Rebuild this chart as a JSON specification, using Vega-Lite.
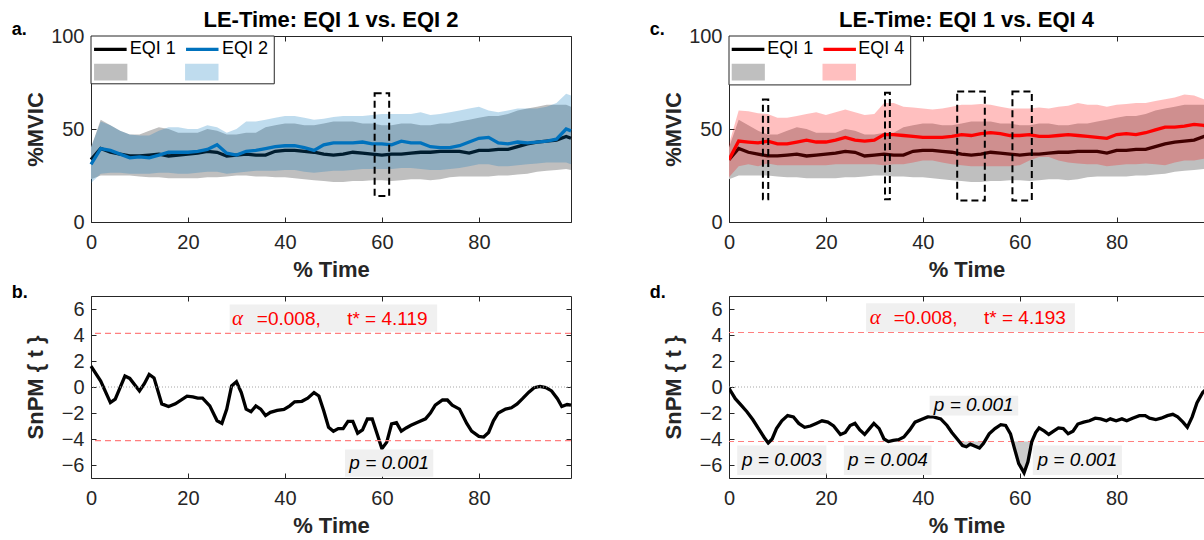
{
  "$schema": "https://vega.github.io/schema/vega-lite/v6.json",
  "padding": {"left": 11, "top": 9, "right": 0, "bottom": 0},
  "background": "white",
  "config": {
    "font": "Liberation Sans",
    "view": {"stroke": null},
    "axis": {"grid": false, "domainColor": "#262626", "domainWidth": 1, "tickColor": "#262626", "tickSize": -5, "tickWidth": 1,
      "labelColor": "#262626", "labelFontSize": 20, "labelFont": "Liberation Sans", "labelFlush": false, "labelOverlap": false,
      "titleFont": "Liberation Sans", "titleFontSize": 22, "titleFontWeight": "bold", "titleColor": "#262626"},
    "axisX": {"labelPadding": 15, "minExtent": 30, "maxExtent": 30, "titlePadding": 7},
    "axisY": {"labelPadding": 12, "minExtent": 40, "maxExtent": 40, "titlePadding": 4},
    "title": {"font": "Liberation Sans", "fontSize": 22, "fontWeight": "bold", "color": "#000000", "offset": -11, "anchor": "middle", "frame": "group"}
  },
  "datasets": {
    "one": [{}],
    "env": [
      {"t": 0, "m1": 33.5, "lo1": 23, "hi1": 40, "m2": 31, "lo2": 21, "hi2": 40, "m4": 33.5, "lo4": 24, "hi4": 42},
      {"t": 2, "m1": 39.5, "lo1": 25, "hi1": 55, "m2": 39.5, "lo2": 26, "hi2": 54, "m4": 43.5, "lo4": 30, "hi4": 60},
      {"t": 4, "m1": 37.5, "lo1": 25, "hi1": 52, "m2": 38.5, "lo2": 26.5, "hi2": 52, "m4": 43, "lo4": 31, "hi4": 59.5},
      {"t": 6, "m1": 36.5, "lo1": 25, "hi1": 49, "m2": 36.5, "lo2": 26.5, "hi2": 49, "m4": 42.5, "lo4": 30, "hi4": 58.5},
      {"t": 8, "m1": 35.5, "lo1": 25, "hi1": 47, "m2": 34.5, "lo2": 26, "hi2": 47, "m4": 43.5, "lo4": 31.5, "hi4": 58},
      {"t": 10, "m1": 35.5, "lo1": 24.5, "hi1": 47, "m2": 35, "lo2": 26, "hi2": 46.5, "m4": 42, "lo4": 30.5, "hi4": 56},
      {"t": 12, "m1": 36, "lo1": 24, "hi1": 49, "m2": 34.5, "lo2": 26, "hi2": 46.5, "m4": 42, "lo4": 30.5, "hi4": 56},
      {"t": 14, "m1": 36.5, "lo1": 24, "hi1": 51, "m2": 36, "lo2": 26.5, "hi2": 49, "m4": 43, "lo4": 30.5, "hi4": 57},
      {"t": 16, "m1": 35.5, "lo1": 23.5, "hi1": 50, "m2": 37.5, "lo2": 26.5, "hi2": 51, "m4": 44, "lo4": 30.5, "hi4": 58},
      {"t": 18, "m1": 36, "lo1": 23.5, "hi1": 48, "m2": 37.5, "lo2": 26, "hi2": 51, "m4": 43, "lo4": 30.5, "hi4": 59},
      {"t": 20, "m1": 36.5, "lo1": 23.5, "hi1": 48, "m2": 37.5, "lo2": 26, "hi2": 50, "m4": 43, "lo4": 30.5, "hi4": 57.5},
      {"t": 22, "m1": 37, "lo1": 23.5, "hi1": 48, "m2": 38, "lo2": 26.5, "hi2": 50, "m4": 44, "lo4": 31, "hi4": 59},
      {"t": 24, "m1": 38, "lo1": 24, "hi1": 50, "m2": 39, "lo2": 27, "hi2": 52, "m4": 45.5, "lo4": 31, "hi4": 60.5},
      {"t": 26, "m1": 37.5, "lo1": 24, "hi1": 49, "m2": 41.5, "lo2": 27, "hi2": 51, "m4": 44, "lo4": 31, "hi4": 59},
      {"t": 28, "m1": 35.5, "lo1": 24.5, "hi1": 47, "m2": 37, "lo2": 26, "hi2": 48, "m4": 43.5, "lo4": 31, "hi4": 57.5},
      {"t": 30, "m1": 36, "lo1": 25, "hi1": 47, "m2": 36, "lo2": 26.5, "hi2": 50, "m4": 44, "lo4": 31, "hi4": 58},
      {"t": 32, "m1": 36.5, "lo1": 25, "hi1": 48, "m2": 38, "lo2": 27, "hi2": 54, "m4": 47, "lo4": 30.5, "hi4": 64},
      {"t": 34, "m1": 36, "lo1": 24.5, "hi1": 48, "m2": 38.5, "lo2": 27.5, "hi2": 54, "m4": 47, "lo4": 31, "hi4": 64},
      {"t": 36, "m1": 36, "lo1": 24.5, "hi1": 51, "m2": 39.5, "lo2": 27.5, "hi2": 55, "m4": 46.5, "lo4": 31, "hi4": 62},
      {"t": 38, "m1": 38, "lo1": 24, "hi1": 52, "m2": 40.5, "lo2": 27.5, "hi2": 56, "m4": 46, "lo4": 32, "hi4": 61.5},
      {"t": 40, "m1": 38.5, "lo1": 24, "hi1": 53, "m2": 41, "lo2": 28, "hi2": 57, "m4": 45.5, "lo4": 33, "hi4": 61},
      {"t": 42, "m1": 38.5, "lo1": 23.5, "hi1": 53, "m2": 41, "lo2": 28, "hi2": 57, "m4": 45.5, "lo4": 33, "hi4": 60.5},
      {"t": 44, "m1": 38, "lo1": 23, "hi1": 52, "m2": 40, "lo2": 27, "hi2": 56, "m4": 45.5, "lo4": 32, "hi4": 61},
      {"t": 46, "m1": 37.5, "lo1": 22.5, "hi1": 52, "m2": 38.5, "lo2": 26.5, "hi2": 55, "m4": 46, "lo4": 31, "hi4": 62},
      {"t": 48, "m1": 36.5, "lo1": 22, "hi1": 53, "m2": 41.5, "lo2": 27, "hi2": 55.5, "m4": 47, "lo4": 30.5, "hi4": 63},
      {"t": 50, "m1": 36, "lo1": 21.5, "hi1": 54, "m2": 42.5, "lo2": 27.5, "hi2": 56.5, "m4": 46.5, "lo4": 30, "hi4": 63},
      {"t": 52, "m1": 36.5, "lo1": 21.5, "hi1": 54, "m2": 42.5, "lo2": 27.5, "hi2": 57, "m4": 47.5, "lo4": 30, "hi4": 63.5},
      {"t": 54, "m1": 37.5, "lo1": 22, "hi1": 54, "m2": 42.5, "lo2": 28, "hi2": 57, "m4": 48, "lo4": 30, "hi4": 63},
      {"t": 56, "m1": 37, "lo1": 22, "hi1": 53, "m2": 43, "lo2": 28.5, "hi2": 57, "m4": 47.5, "lo4": 30, "hi4": 62},
      {"t": 58, "m1": 36.5, "lo1": 22.5, "hi1": 53, "m2": 42, "lo2": 28.5, "hi2": 57.5, "m4": 46.5, "lo4": 30, "hi4": 61},
      {"t": 60, "m1": 36, "lo1": 22.5, "hi1": 52, "m2": 42, "lo2": 28.5, "hi2": 58, "m4": 46.5, "lo4": 30.5, "hi4": 61},
      {"t": 62, "m1": 36.5, "lo1": 22, "hi1": 52, "m2": 41.5, "lo2": 28.5, "hi2": 58, "m4": 47, "lo4": 33, "hi4": 61},
      {"t": 64, "m1": 36.5, "lo1": 22.5, "hi1": 53, "m2": 43.5, "lo2": 29, "hi2": 58, "m4": 46, "lo4": 35, "hi4": 61.5},
      {"t": 66, "m1": 37, "lo1": 23, "hi1": 53, "m2": 42.5, "lo2": 29, "hi2": 58, "m4": 46, "lo4": 35, "hi4": 61},
      {"t": 68, "m1": 37.5, "lo1": 23, "hi1": 52, "m2": 42.5, "lo2": 28.5, "hi2": 59, "m4": 46.5, "lo4": 33, "hi4": 62},
      {"t": 70, "m1": 37.5, "lo1": 22.5, "hi1": 52, "m2": 40.5, "lo2": 28, "hi2": 57.5, "m4": 47, "lo4": 32, "hi4": 62.5},
      {"t": 72, "m1": 38, "lo1": 23, "hi1": 53, "m2": 40, "lo2": 28, "hi2": 58, "m4": 46.5, "lo4": 31.5, "hi4": 64},
      {"t": 74, "m1": 38, "lo1": 24, "hi1": 53, "m2": 40, "lo2": 28.5, "hi2": 59, "m4": 46, "lo4": 31, "hi4": 63},
      {"t": 76, "m1": 38, "lo1": 24.5, "hi1": 54, "m2": 41, "lo2": 29, "hi2": 60, "m4": 45.5, "lo4": 31, "hi4": 63},
      {"t": 78, "m1": 37, "lo1": 24.5, "hi1": 55, "m2": 43, "lo2": 30, "hi2": 61, "m4": 45, "lo4": 30, "hi4": 62},
      {"t": 80, "m1": 38.5, "lo1": 24.5, "hi1": 56, "m2": 45, "lo2": 31, "hi2": 62, "m4": 47, "lo4": 30.5, "hi4": 63},
      {"t": 82, "m1": 38.5, "lo1": 24.5, "hi1": 57, "m2": 45.5, "lo2": 31, "hi2": 60, "m4": 47.5, "lo4": 31, "hi4": 63.5},
      {"t": 84, "m1": 39, "lo1": 25, "hi1": 57, "m2": 42.5, "lo2": 30, "hi2": 59, "m4": 47, "lo4": 31, "hi4": 64},
      {"t": 86, "m1": 39, "lo1": 25, "hi1": 58, "m2": 42, "lo2": 30, "hi2": 60, "m4": 48, "lo4": 31.5, "hi4": 64},
      {"t": 88, "m1": 40.5, "lo1": 25.5, "hi1": 60, "m2": 43, "lo2": 30.5, "hi2": 61, "m4": 49.5, "lo4": 31, "hi4": 65},
      {"t": 90, "m1": 42, "lo1": 26, "hi1": 61, "m2": 42.5, "lo2": 31, "hi2": 61, "m4": 51, "lo4": 30.5, "hi4": 66},
      {"t": 92, "m1": 43, "lo1": 27, "hi1": 62, "m2": 43, "lo2": 31.5, "hi2": 61, "m4": 51, "lo4": 32, "hi4": 67},
      {"t": 94, "m1": 43.5, "lo1": 27.5, "hi1": 63, "m2": 43.5, "lo2": 32, "hi2": 62, "m4": 51.5, "lo4": 33, "hi4": 68.5},
      {"t": 96, "m1": 44, "lo1": 28, "hi1": 63, "m2": 44.5, "lo2": 32, "hi2": 64, "m4": 52.5, "lo4": 33, "hi4": 68},
      {"t": 98, "m1": 46, "lo1": 28.5, "hi1": 63, "m2": 50, "lo2": 32, "hi2": 69, "m4": 52, "lo4": 34, "hi4": 66},
      {"t": 99, "m1": 45, "lo1": 28, "hi1": 62, "m2": 49, "lo2": 31, "hi2": 68, "m4": 50, "lo4": 34, "hi4": 65}
    ],
    "spm_b": [
      {"t": 0, "v": 1.6}, {"t": 2, "v": 0.46}, {"t": 4, "v": -1.2}, {"t": 5, "v": -0.94}, {"t": 7, "v": 0.84}, {"t": 8, "v": 0.66},
      {"t": 10, "v": -0.3}, {"t": 11, "v": 0.25}, {"t": 12, "v": 0.96}, {"t": 13, "v": 0.7}, {"t": 14.6, "v": -1.3}, {"t": 16, "v": -1.5},
      {"t": 17.4, "v": -1.3}, {"t": 19.8, "v": -0.7}, {"t": 21, "v": -0.76}, {"t": 22, "v": -0.86}, {"t": 23, "v": -0.86}, {"t": 24.5, "v": -1.45},
      {"t": 26, "v": -2.6}, {"t": 27, "v": -2.8}, {"t": 28, "v": -1.7}, {"t": 29, "v": 0.08}, {"t": 30, "v": 0.4}, {"t": 31, "v": -0.43},
      {"t": 32, "v": -1.7}, {"t": 33, "v": -1.9}, {"t": 34, "v": -1.45}, {"t": 35, "v": -1.7}, {"t": 36, "v": -2.2}, {"t": 37, "v": -1.95},
      {"t": 38.4, "v": -1.8}, {"t": 39.8, "v": -1.73}, {"t": 41, "v": -1.45}, {"t": 42, "v": -1.14}, {"t": 43.5, "v": -1.1}, {"t": 44.7, "v": -0.86},
      {"t": 46, "v": -0.43}, {"t": 47, "v": -0.69}, {"t": 48, "v": -1.83}, {"t": 49, "v": -3.1}, {"t": 50, "v": -3.4}, {"t": 51, "v": -3.2},
      {"t": 52, "v": -3.2}, {"t": 53, "v": -2.64}, {"t": 54, "v": -2.64}, {"t": 55, "v": -3.55}, {"t": 56, "v": -3.3}, {"t": 57, "v": -2.46},
      {"t": 58, "v": -2.46}, {"t": 59, "v": -3.6}, {"t": 60, "v": -4.75}, {"t": 61, "v": -4.24}, {"t": 62, "v": -2.84}, {"t": 63, "v": -2.74},
      {"t": 64, "v": -3.4}, {"t": 65, "v": -3.15}, {"t": 66, "v": -2.95}, {"t": 67.5, "v": -2.7}, {"t": 69, "v": -2.45}, {"t": 70, "v": -2.0},
      {"t": 71, "v": -1.4}, {"t": 72.5, "v": -1.0}, {"t": 73.5, "v": -1.0}, {"t": 74.5, "v": -1.4}, {"t": 76, "v": -1.7}, {"t": 77.5, "v": -2.8},
      {"t": 78.5, "v": -3.4}, {"t": 80, "v": -3.8}, {"t": 81, "v": -3.85}, {"t": 82, "v": -3.5}, {"t": 83, "v": -2.6}, {"t": 84, "v": -2.0},
      {"t": 85.5, "v": -1.7}, {"t": 86.7, "v": -1.6}, {"t": 87.9, "v": -1.3}, {"t": 89, "v": -0.9}, {"t": 90.3, "v": -0.4}, {"t": 91.4, "v": -0.05},
      {"t": 92.6, "v": 0.05}, {"t": 93.8, "v": -0.05}, {"t": 95, "v": -0.3}, {"t": 96.2, "v": -0.9}, {"t": 97.1, "v": -1.5}, {"t": 98.2, "v": -1.35},
      {"t": 99, "v": -1.4}
    ],
    "spm_d": [
      {"t": 0, "v": -0.1}, {"t": 1.3, "v": -0.9}, {"t": 2.5, "v": -1.4}, {"t": 3.7, "v": -1.9}, {"t": 4.9, "v": -2.5}, {"t": 6.1, "v": -3.2},
      {"t": 7.3, "v": -3.9}, {"t": 8.1, "v": -4.3}, {"t": 8.9, "v": -4.0}, {"t": 9.8, "v": -3.2}, {"t": 10.9, "v": -2.6}, {"t": 12.1, "v": -2.2},
      {"t": 13.3, "v": -2.3}, {"t": 14.4, "v": -2.8}, {"t": 15.6, "v": -3.1}, {"t": 16.8, "v": -3.0}, {"t": 18, "v": -2.8}, {"t": 19.2, "v": -2.6},
      {"t": 20.4, "v": -2.7}, {"t": 21.6, "v": -3.0}, {"t": 23, "v": -3.65}, {"t": 24, "v": -3.5}, {"t": 25, "v": -2.96}, {"t": 26, "v": -2.8},
      {"t": 27, "v": -3.3}, {"t": 28, "v": -3.65}, {"t": 29, "v": -3.2}, {"t": 29.9, "v": -2.8}, {"t": 31, "v": -3.2}, {"t": 32, "v": -4.0},
      {"t": 32.9, "v": -4.2}, {"t": 33.9, "v": -4.1}, {"t": 35, "v": -4.05}, {"t": 36.1, "v": -3.85}, {"t": 37.3, "v": -3.3}, {"t": 38.4, "v": -2.7},
      {"t": 39.7, "v": -2.5}, {"t": 41, "v": -2.3}, {"t": 42.2, "v": -2.3}, {"t": 43.7, "v": -2.45}, {"t": 45, "v": -2.96}, {"t": 46, "v": -3.5},
      {"t": 47.1, "v": -4.0}, {"t": 48.2, "v": -4.5}, {"t": 49, "v": -4.6}, {"t": 49.8, "v": -4.4}, {"t": 50.8, "v": -4.55}, {"t": 51.7, "v": -4.7},
      {"t": 52.5, "v": -4.35}, {"t": 53.7, "v": -3.6}, {"t": 54.9, "v": -3.2}, {"t": 56.1, "v": -2.9}, {"t": 57.1, "v": -2.96}, {"t": 58.1, "v": -3.6},
      {"t": 58.9, "v": -4.7}, {"t": 59.8, "v": -5.9}, {"t": 60.9, "v": -6.6}, {"t": 61.7, "v": -5.75}, {"t": 62.5, "v": -4.2}, {"t": 63.3, "v": -3.5},
      {"t": 64, "v": -3.15}, {"t": 65.1, "v": -3.4}, {"t": 66, "v": -3.65}, {"t": 67, "v": -3.4}, {"t": 68, "v": -3.15}, {"t": 69, "v": -3.2},
      {"t": 70, "v": -3.6}, {"t": 71, "v": -3.4}, {"t": 72, "v": -2.85}, {"t": 73.2, "v": -2.7}, {"t": 74.4, "v": -2.6}, {"t": 75.6, "v": -2.4},
      {"t": 76.7, "v": -2.45}, {"t": 77.9, "v": -2.6}, {"t": 78.7, "v": -2.45}, {"t": 79.9, "v": -2.6}, {"t": 81.1, "v": -2.45}, {"t": 82.1, "v": -2.6},
      {"t": 83.3, "v": -2.4}, {"t": 84.7, "v": -2.2}, {"t": 85.9, "v": -2.2}, {"t": 86.8, "v": -2.4}, {"t": 88.1, "v": -2.5}, {"t": 89.2, "v": -2.4},
      {"t": 90.5, "v": -2.2}, {"t": 91.6, "v": -2.1}, {"t": 92.6, "v": -2.3}, {"t": 93.7, "v": -2.7}, {"t": 94.6, "v": -3.1}, {"t": 95.6, "v": -2.3},
      {"t": 96.6, "v": -1.2}, {"t": 97.8, "v": -0.4}, {"t": 98.4, "v": -0.2}, {"t": 99, "v": 0.1}
    ],
    "clus_d": [
      {"c": 1, "t": 47.3, "v": -4.193}, {"c": 1, "t": 48.2, "v": -4.5}, {"c": 1, "t": 49, "v": -4.6}, {"c": 1, "t": 49.8, "v": -4.4},
      {"c": 1, "t": 50.8, "v": -4.55}, {"c": 1, "t": 51.7, "v": -4.7}, {"c": 1, "t": 52.5, "v": -4.35}, {"c": 1, "t": 52.7, "v": -4.193},
      {"c": 2, "t": 58.4, "v": -4.193}, {"c": 2, "t": 58.9, "v": -4.7}, {"c": 2, "t": 59.8, "v": -5.9}, {"c": 2, "t": 60.9, "v": -6.6},
      {"c": 2, "t": 61.7, "v": -5.75}, {"c": 2, "t": 62.5, "v": -4.193}
    ],
    "boxes_a": [{"x1": 58.5, "x2": 61.5, "y1": 14, "y2": 69.2}],
    "boxes_c": [
      {"x1": 7.0, "x2": 8.1, "y1": 12.2, "y2": 65.9},
      {"x1": 32.2, "x2": 33.2, "y1": 12.2, "y2": 69.5},
      {"x1": 47.1, "x2": 52.8, "y1": 11.6, "y2": 70.2},
      {"x1": 58.5, "x2": 62.5, "y1": 11.6, "y2": 70.2}
    ]
  },
  "columns": 2,
  "bounds": "flush",
  "spacing": {"row": 74, "column": 158},
  "concat": [
    {
      "width": 480, "height": 186,
      "title": {"text": "LE-Time: EQI 1 vs. EQI 2"},
      "resolve": {"axis": {"x": "independent", "y": "independent"}},
      "layer": [
        {"data": {"name": "env"}, "mark": {"type": "area", "color": "#bfbfbf", "opacity": 1},
          "encoding": {
            "x": {"field": "t", "type": "quantitative", "scale": {"domain": [0, 99], "nice": false, "zero": false}, "axis": {"values": [0, 20, 40, 60, 80], "title": "% Time"}},
            "y": {"field": "lo1", "type": "quantitative", "scale": {"domain": [0, 100], "nice": false}, "axis": {"values": [0, 50, 100], "title": "%MVIC"}},
            "y2": {"field": "hi1"}}},
        {"data": {"name": "env"}, "mark": {"type": "line", "color": "#000000", "strokeWidth": 3.3},
          "encoding": {
            "x": {"field": "t", "type": "quantitative", "axis": {"orient": "top", "values": [0, 20, 40, 60, 80], "labels": false, "title": null, "minExtent": 0, "maxExtent": 0}},
            "y": {"field": "m1", "type": "quantitative", "axis": {"orient": "right", "values": [0, 50, 100], "labels": false, "title": null, "minExtent": 0, "maxExtent": 0}}}},
        {"data": {"name": "env"}, "mark": {"type": "area", "color": "#0072BD", "opacity": 0.25},
          "encoding": {"x": {"field": "t", "type": "quantitative", "axis": null}, "y": {"field": "lo2", "type": "quantitative", "axis": null}, "y2": {"field": "hi2"}}},
        {"data": {"name": "env"}, "mark": {"type": "line", "color": "#0072BD", "strokeWidth": 3.3},
          "encoding": {"x": {"field": "t", "type": "quantitative", "axis": null}, "y": {"field": "m2", "type": "quantitative", "axis": null}}},
        {"data": {"name": "boxes_a"}, "mark": {"type": "rect", "fillOpacity": 0, "fill": "white", "stroke": "#000000", "strokeWidth": 2, "strokeDash": [7, 4]},
          "encoding": {"x": {"field": "x1", "type": "quantitative", "axis": null}, "x2": {"field": "x2"}, "y": {"field": "y1", "type": "quantitative", "axis": null}, "y2": {"field": "y2"}}},
        {"data": {"name": "one"}, "mark": {"type": "rect", "fill": "white", "stroke": "#262626", "strokeWidth": 1},
          "encoding": {"x": {"datum": 0, "axis": null}, "x2": {"datum": 37.8}, "y": {"datum": 100, "axis": null}, "y2": {"datum": 74.3}}},
        {"data": {"name": "one"}, "mark": {"type": "rule", "color": "#000000", "strokeWidth": 3.3},
          "encoding": {"x": {"datum": 0.63, "axis": null}, "x2": {"datum": 7.35}, "y": {"datum": 92.8, "axis": null}}},
        {"data": {"name": "one"}, "mark": {"type": "rule", "color": "#0072BD", "strokeWidth": 3.3},
          "encoding": {"x": {"datum": 19.6, "axis": null}, "x2": {"datum": 26.3}, "y": {"datum": 92.8, "axis": null}}},
        {"data": {"name": "one"}, "mark": {"type": "text", "text": "EQI 1", "align": "left", "baseline": "middle", "fontSize": 18, "color": "#000000"},
          "encoding": {"x": {"datum": 8.0, "axis": null}, "y": {"datum": 92.8, "axis": null}}},
        {"data": {"name": "one"}, "mark": {"type": "text", "text": "EQI 2", "align": "left", "baseline": "middle", "fontSize": 18, "color": "#000000"},
          "encoding": {"x": {"datum": 27.0, "axis": null}, "y": {"datum": 92.8, "axis": null}}},
        {"data": {"name": "one"}, "mark": {"type": "rect", "color": "#bfbfbf", "opacity": 1},
          "encoding": {"x": {"datum": 0.63, "axis": null}, "x2": {"datum": 7.5}, "y": {"datum": 85.1, "axis": null}, "y2": {"datum": 76.1}}},
        {"data": {"name": "one"}, "mark": {"type": "rect", "color": "#0072BD", "opacity": 0.25},
          "encoding": {"x": {"datum": 19.4, "axis": null}, "x2": {"datum": 26.3}, "y": {"datum": 85.1, "axis": null}, "y2": {"datum": 76.1}}},
        {"data": {"name": "one"}, "mark": {"type": "text", "text": "a.", "align": "left", "baseline": "alphabetic", "fontSize": 18, "fontWeight": "bold", "color": "#000000"},
          "encoding": {"x": {"datum": -16.35, "axis": null}, "y": {"datum": 100.5, "axis": null}}}
      ]
    },
    {
      "width": 475, "height": 186,
      "title": {"text": "LE-Time: EQI 1 vs. EQI 4"},
      "resolve": {"axis": {"x": "independent", "y": "independent"}},
      "layer": [
        {"data": {"name": "env"}, "mark": {"type": "area", "color": "#bfbfbf", "opacity": 1, "clip": true},
          "encoding": {
            "x": {"field": "t", "type": "quantitative", "scale": {"domain": [0, 98.04], "nice": false, "zero": false}, "axis": {"values": [0, 20, 40, 60, 80], "title": "% Time"}},
            "y": {"field": "lo1", "type": "quantitative", "scale": {"domain": [0, 100], "nice": false}, "axis": {"values": [0, 50, 100], "title": "%MVIC"}},
            "y2": {"field": "hi1"}}},
        {"data": {"name": "env"}, "mark": {"type": "line", "color": "#000000", "strokeWidth": 3.3, "clip": true},
          "encoding": {
            "x": {"field": "t", "type": "quantitative", "axis": {"orient": "top", "values": [0, 20, 40, 60, 80], "labels": false, "title": null, "minExtent": 0, "maxExtent": 0}},
            "y": {"field": "m1", "type": "quantitative", "axis": null}}},
        {"data": {"name": "env"}, "mark": {"type": "area", "color": "#ff0000", "opacity": 0.25, "clip": true},
          "encoding": {"x": {"field": "t", "type": "quantitative", "axis": null}, "y": {"field": "lo4", "type": "quantitative", "axis": null}, "y2": {"field": "hi4"}}},
        {"data": {"name": "env"}, "mark": {"type": "line", "color": "#ff0000", "strokeWidth": 3.3, "clip": true},
          "encoding": {"x": {"field": "t", "type": "quantitative", "axis": null}, "y": {"field": "m4", "type": "quantitative", "axis": null}}},
        {"data": {"name": "boxes_c"}, "mark": {"type": "rect", "fillOpacity": 0, "fill": "white", "stroke": "#000000", "strokeWidth": 2, "strokeDash": [7, 4]},
          "encoding": {"x": {"field": "x1", "type": "quantitative", "axis": null}, "x2": {"field": "x2"}, "y": {"field": "y1", "type": "quantitative", "axis": null}, "y2": {"field": "y2"}}},
        {"data": {"name": "one"}, "mark": {"type": "rect", "fill": "white", "stroke": "#262626", "strokeWidth": 1},
          "encoding": {"x": {"datum": 0, "axis": null}, "x2": {"datum": 37.5}, "y": {"datum": 100, "axis": null}, "y2": {"datum": 73.7}}},
        {"data": {"name": "one"}, "mark": {"type": "rule", "color": "#000000", "strokeWidth": 3.3},
          "encoding": {"x": {"datum": 0.56, "axis": null}, "x2": {"datum": 7.3}, "y": {"datum": 92.8, "axis": null}}},
        {"data": {"name": "one"}, "mark": {"type": "rule", "color": "#ff0000", "strokeWidth": 3.3},
          "encoding": {"x": {"datum": 19.5, "axis": null}, "x2": {"datum": 26.2}, "y": {"datum": 92.8, "axis": null}}},
        {"data": {"name": "one"}, "mark": {"type": "text", "text": "EQI 1", "align": "left", "baseline": "middle", "fontSize": 18, "color": "#000000"},
          "encoding": {"x": {"datum": 7.9, "axis": null}, "y": {"datum": 92.8, "axis": null}}},
        {"data": {"name": "one"}, "mark": {"type": "text", "text": "EQI 4", "align": "left", "baseline": "middle", "fontSize": 18, "color": "#000000"},
          "encoding": {"x": {"datum": 26.7, "axis": null}, "y": {"datum": 92.8, "axis": null}}},
        {"data": {"name": "one"}, "mark": {"type": "rect", "color": "#bfbfbf", "opacity": 1},
          "encoding": {"x": {"datum": 0.56, "axis": null}, "x2": {"datum": 7.4}, "y": {"datum": 85.1, "axis": null}, "y2": {"datum": 76.1}}},
        {"data": {"name": "one"}, "mark": {"type": "rect", "color": "#ff0000", "opacity": 0.25},
          "encoding": {"x": {"datum": 19.3, "axis": null}, "x2": {"datum": 26.2}, "y": {"datum": 85.1, "axis": null}, "y2": {"datum": 76.1}}},
        {"data": {"name": "one"}, "mark": {"type": "text", "text": "c.", "align": "left", "baseline": "alphabetic", "fontSize": 18, "fontWeight": "bold", "color": "#000000"},
          "encoding": {"x": {"datum": -16.35, "axis": null}, "y": {"datum": 100.5, "axis": null}}}
      ]
    },
    {
      "width": 480, "height": 182,
      "resolve": {"axis": {"x": "independent", "y": "independent"}},
      "layer": [
        {"data": {"name": "spm_b"}, "mark": {"type": "line", "color": "#000000", "strokeWidth": 3.3},
          "encoding": {
            "x": {"field": "t", "type": "quantitative", "scale": {"domain": [0, 99], "nice": false, "zero": false}, "axis": {"values": [0, 20, 40, 60, 80], "title": "% Time"}},
            "y": {"field": "v", "type": "quantitative", "scale": {"domain": [-7, 7], "nice": false, "zero": false}, "axis": {"values": [-6, -4, -2, 0, 2, 4, 6], "title": "SnPM { t }"}}}},
        {"data": {"name": "one"}, "mark": {"type": "rule", "color": "#a6a6a6", "strokeWidth": 1, "strokeDash": [1, 2]},
          "encoding": {"y": {"datum": 0, "axis": null}}},
        {"data": {"name": "one"}, "mark": {"type": "rule", "color": "#ff7f7f", "strokeWidth": 1.2, "strokeDash": [6, 4]},
          "encoding": {"y": {"datum": 4.119, "axis": null}}},
        {"data": {"name": "one"}, "mark": {"type": "rule", "color": "#ff7f7f", "strokeWidth": 1.2, "strokeDash": [6, 4]},
          "encoding": {"y": {"datum": -4.119, "axis": null}}},
        {"data": {"name": "one"}, "mark": {"type": "rect", "color": "#f0f0f0"},
          "encoding": {
            "x": {"datum": 28.6, "axis": {"orient": "top", "values": [0, 20, 40, 60, 80], "labels": false, "title": null, "minExtent": 0, "maxExtent": 0}}, "x2": {"datum": 71.4},
            "y": {"datum": 4.25, "axis": {"orient": "right", "values": [-6, -4, -2, 0, 2, 4, 6], "labels": false, "title": null, "minExtent": 0, "maxExtent": 0}}, "y2": {"datum": 6.35}}},
        {"data": {"name": "one"}, "mark": {"type": "text", "text": "α", "align": "center", "baseline": "middle", "font": "Liberation Serif", "fontStyle": "italic", "fontSize": 21, "color": "#ff0000"},
          "encoding": {"x": {"datum": 30.2, "axis": null}, "y": {"datum": 5.25, "axis": null}}},
        {"data": {"name": "one"}, "mark": {"type": "text", "text": "=0.008,\u00a0\u00a0\u00a0\u00a0\u00a0t* = 4.119", "align": "left", "baseline": "middle", "fontSize": 19, "color": "#ff0000"},
          "encoding": {"x": {"datum": 34.2, "axis": null}, "y": {"datum": 5.25, "axis": null}}},
        {"data": {"name": "one"}, "mark": {"type": "rect", "color": "#f0f0f0"},
          "encoding": {"x": {"datum": 52.4, "axis": null}, "x2": {"datum": 70.6}, "y": {"datum": -4.8, "axis": null}, "y2": {"datum": -6.9}}},
        {"data": {"name": "one"}, "mark": {"type": "text", "text": "p = 0.001", "align": "center", "baseline": "middle", "fontSize": 19, "fontStyle": "italic", "color": "#000000"},
          "encoding": {"x": {"datum": 61.5, "axis": null}, "y": {"datum": -5.85, "axis": null}}},
        {"data": {"name": "one"}, "mark": {"type": "text", "text": "b.", "align": "left", "baseline": "alphabetic", "fontSize": 18, "fontWeight": "bold", "color": "#000000"},
          "encoding": {"x": {"datum": -16.35, "axis": null}, "y": {"datum": 6.85, "axis": null}}}
      ]
    },
    {
      "width": 475, "height": 182,
      "resolve": {"axis": {"x": "independent", "y": "independent"}},
      "layer": [
        {"data": {"name": "clus_d"}, "mark": {"type": "area", "color": "#cccccc"},
          "encoding": {
            "x": {"field": "t", "type": "quantitative", "scale": {"domain": [0, 98.04], "nice": false, "zero": false}, "axis": {"values": [0, 20, 40, 60, 80], "title": "% Time"}},
            "y": {"field": "v", "type": "quantitative", "scale": {"domain": [-7, 7], "nice": false, "zero": false}, "axis": {"values": [-6, -4, -2, 0, 2, 4, 6], "title": "SnPM { t }"}},
            "y2": {"datum": -4.193},
            "detail": {"field": "c", "type": "nominal"}}},
        {"data": {"name": "one"}, "mark": {"type": "rule", "color": "#a6a6a6", "strokeWidth": 1, "strokeDash": [1, 2]},
          "encoding": {"y": {"datum": 0, "axis": null}}},
        {"data": {"name": "one"}, "mark": {"type": "rule", "color": "#ff7f7f", "strokeWidth": 1.2, "strokeDash": [6, 4]},
          "encoding": {"y": {"datum": 4.193, "axis": null}}},
        {"data": {"name": "one"}, "mark": {"type": "rule", "color": "#ff7f7f", "strokeWidth": 1.2, "strokeDash": [6, 4]},
          "encoding": {"y": {"datum": -4.193, "axis": null}}},
        {"data": {"name": "spm_d"}, "mark": {"type": "line", "color": "#000000", "strokeWidth": 3.3, "clip": true},
          "encoding": {"x": {"field": "t", "type": "quantitative", "axis": {"orient": "top", "values": [0, 20, 40, 60, 80], "labels": false, "title": null, "minExtent": 0, "maxExtent": 0}},
            "y": {"field": "v", "type": "quantitative", "axis": null}}},
        {"data": {"name": "one"}, "mark": {"type": "rect", "color": "#f0f0f0"},
          "encoding": {"x": {"datum": 28.3, "axis": null}, "x2": {"datum": 71.4}, "y": {"datum": 4.25, "axis": null}, "y2": {"datum": 6.45}}},
        {"data": {"name": "one"}, "mark": {"type": "text", "text": "α", "align": "center", "baseline": "middle", "font": "Liberation Serif", "fontStyle": "italic", "fontSize": 21, "color": "#ff0000"},
          "encoding": {"x": {"datum": 30.2, "axis": null}, "y": {"datum": 5.3, "axis": null}}},
        {"data": {"name": "one"}, "mark": {"type": "text", "text": "=0.008,\u00a0\u00a0\u00a0\u00a0\u00a0t* = 4.193", "align": "left", "baseline": "middle", "fontSize": 19, "color": "#ff0000"},
          "encoding": {"x": {"datum": 34.0, "axis": null}, "y": {"datum": 5.3, "axis": null}}},
        {"data": {"name": "one"}, "mark": {"type": "rect", "color": "#f0f0f0"},
          "encoding": {"x": {"datum": 41.4, "axis": null}, "x2": {"datum": 59.7}, "y": {"datum": -0.68, "axis": null}, "y2": {"datum": -2.2}}},
        {"data": {"name": "one"}, "mark": {"type": "text", "text": "p = 0.001", "align": "center", "baseline": "middle", "fontSize": 19, "fontStyle": "italic", "color": "#000000"},
          "encoding": {"x": {"datum": 50.5, "axis": null}, "y": {"datum": -1.4, "axis": null}}},
        {"data": {"name": "one"}, "mark": {"type": "rect", "color": "#f0f0f0"},
          "encoding": {"x": {"datum": 1.7, "axis": null}, "x2": {"datum": 20.1}, "y": {"datum": -4.5, "axis": null}, "y2": {"datum": -6.76}}},
        {"data": {"name": "one"}, "mark": {"type": "text", "text": "p = 0.003", "align": "center", "baseline": "middle", "fontSize": 19, "fontStyle": "italic", "color": "#000000"},
          "encoding": {"x": {"datum": 10.9, "axis": null}, "y": {"datum": -5.6, "axis": null}}},
        {"data": {"name": "one"}, "mark": {"type": "rect", "color": "#f0f0f0"},
          "encoding": {"x": {"datum": 23.7, "axis": null}, "x2": {"datum": 41.8}, "y": {"datum": -4.5, "axis": null}, "y2": {"datum": -6.76}}},
        {"data": {"name": "one"}, "mark": {"type": "text", "text": "p = 0.004", "align": "center", "baseline": "middle", "fontSize": 19, "fontStyle": "italic", "color": "#000000"},
          "encoding": {"x": {"datum": 32.8, "axis": null}, "y": {"datum": -5.6, "axis": null}}},
        {"data": {"name": "one"}, "mark": {"type": "rect", "color": "#f0f0f0"},
          "encoding": {"x": {"datum": 62.7, "axis": null}, "x2": {"datum": 81.1}, "y": {"datum": -4.5, "axis": null}, "y2": {"datum": -6.76}}},
        {"data": {"name": "one"}, "mark": {"type": "text", "text": "p = 0.001", "align": "center", "baseline": "middle", "fontSize": 19, "fontStyle": "italic", "color": "#000000"},
          "encoding": {"x": {"datum": 71.9, "axis": null}, "y": {"datum": -5.6, "axis": null}}},
        {"data": {"name": "one"}, "mark": {"type": "text", "text": "d.", "align": "left", "baseline": "alphabetic", "fontSize": 18, "fontWeight": "bold", "color": "#000000"},
          "encoding": {"x": {"datum": -16.35, "axis": null}, "y": {"datum": 6.85, "axis": null}}}
      ]
    }
  ]
}
